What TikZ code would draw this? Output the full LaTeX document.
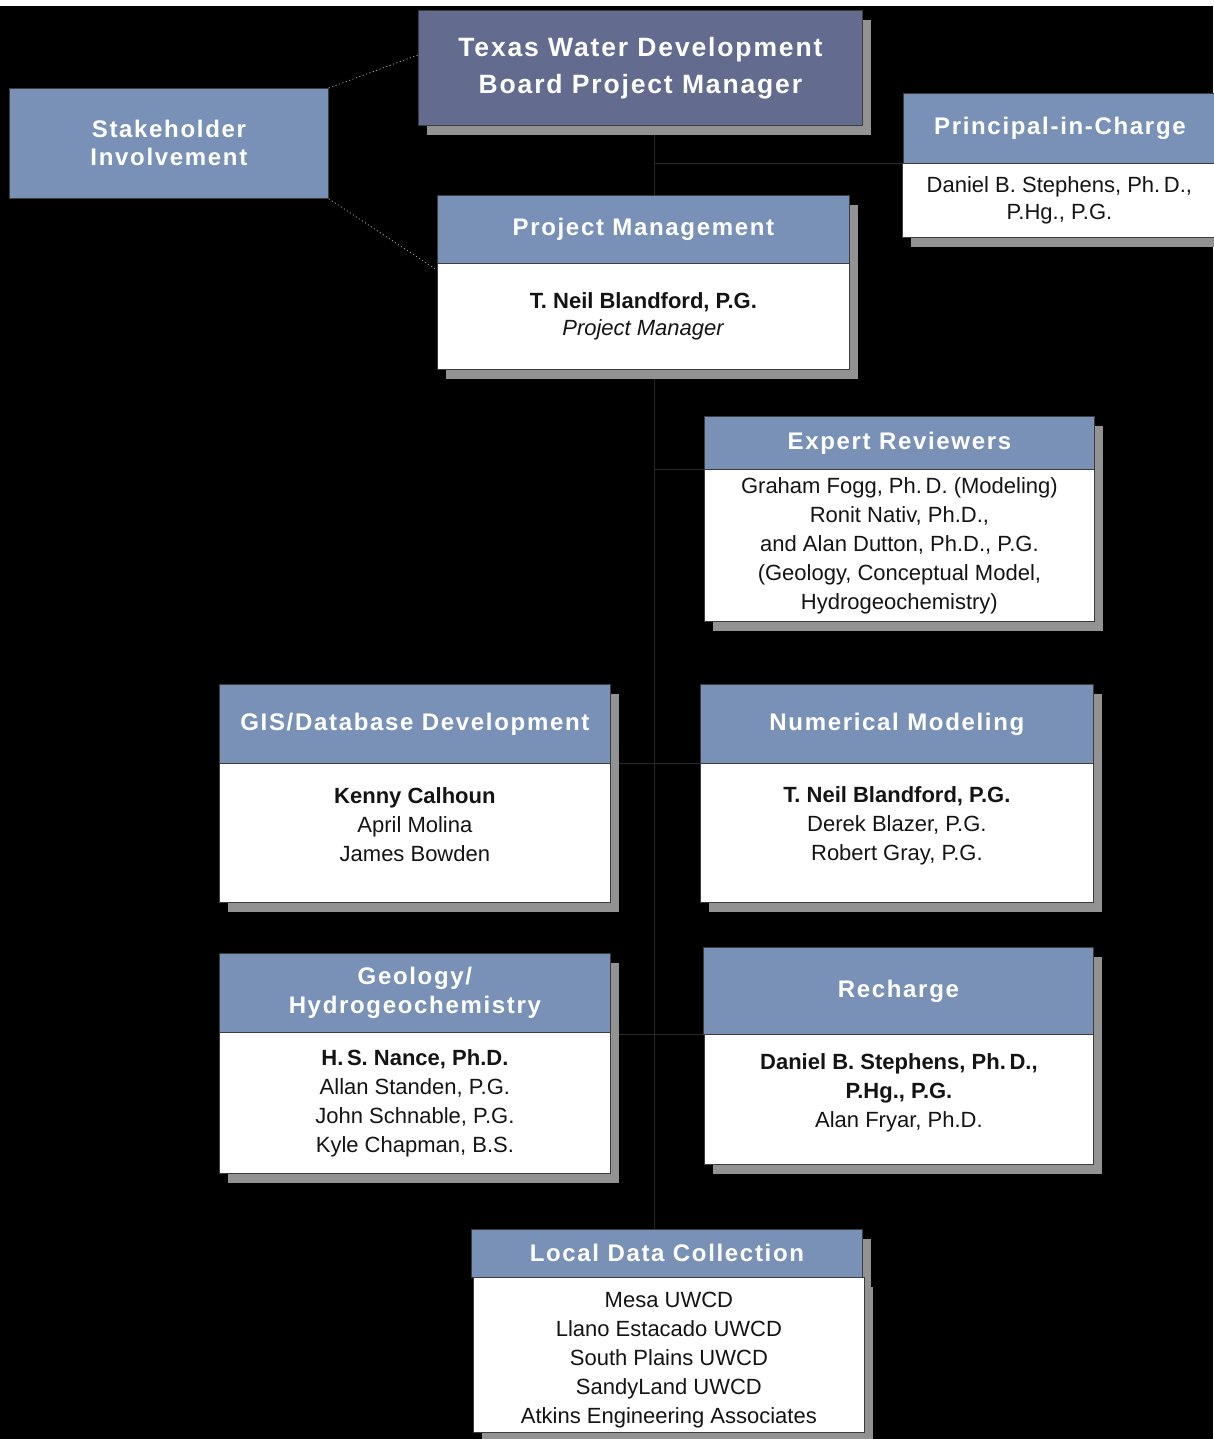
\documentclass[tikz,border=0pt]{standalone}
\usepackage{fontspec}
\setmainfont{Liberation Sans}
\newfontfamily\headfont[LetterSpace=7]{Liberation Sans}
\usepackage{tikz}
\usetikzlibrary{shadows}
\definecolor{headblue}{RGB}{121,145,182}
\definecolor{boardblue}{RGB}{99,107,143}
\definecolor{shadegray}{RGB}{146,146,146}
\definecolor{edgegray}{RGB}{60,60,60}
\definecolor{linkgray}{RGB}{40,40,40}
\definecolor{inkblack}{RGB}{20,20,20}
\pgfdeclarelayer{back}
\pgfdeclarelayer{links}
\pgfsetlayers{back,links,main}

\begin{document}
\begin{tikzpicture}[x=1pt, y=-1pt,
  box/.style={draw=edgegray, line width=0.8pt, rectangle, inner sep=0pt, align=center, anchor=north west},
  shade/.style={drop shadow={shadow xshift=9pt, shadow yshift=-10pt, fill=shadegray, opacity=1}},
  head/.style={box, fill=headblue, text=white, font=\headfont\bfseries\fontsize{24}{29}\selectfont},
  body/.style={box, shade, fill=white, text=inkblack, font=\fontsize{22}{29}\selectfont},
  link/.style={draw=linkgray, line width=1pt},
  dots/.style={draw=gray!80, dash pattern=on 1.2pt off 2.4pt, line width=0.8pt}]
\useasboundingbox (0,0) rectangle (1213,1439);
\begin{pgfonlayer}{back}
\fill[black] (0,6) rectangle (1213,1439);
\fill[white] (0,0) rectangle (1213,6);
\end{pgfonlayer}

%%%%% Top %%%%%
\node[head, shade, fill=boardblue, minimum width=444pt, minimum height=115pt,
  font=\headfont\bfseries\fontsize{26.5}{37}\selectfont] (twdb) at (418,10) {Texas Water Development\\Board Project Manager};
\node[head, minimum width=319pt, minimum height=110pt, font=\headfont\bfseries\fontsize{24}{28}\selectfont] (stake) at (9,88) {Stakeholder\\Involvement};
\node[head, shade, minimum width=313pt, minimum height=70pt] (pichead) at (903,93) {Principal-in-Charge};
\node[body, minimum width=314pt, minimum height=74pt, font=\fontsize{22}{27}\selectfont] (picbody) at (902,163) {Daniel B. Stephens, Ph.\,D.,\\P.Hg., P.G.};
\node[head, shade, minimum width=412pt, minimum height=68pt] (pmhead) at (437,195) {Project Management};
\node[body, minimum width=412pt, minimum height=106pt, font=\fontsize{22}{27}\selectfont] (pmbody) at (437,263) {\textbf{T. Neil Blandford, P.G.}\\\textit{Project Manager}};

%%%%% Teams %%%%%
\node[head, shade, minimum width=390pt, minimum height=53pt] (erhead) at (704,416) {Expert Reviewers};
\node[body, minimum width=390pt, minimum height=152pt] (erbody) at (704,469) {Graham Fogg, Ph.\,D. (Modeling)\\Ronit Nativ, Ph.D.,\\and Alan Dutton, Ph.D., P.G.\\(Geology, Conceptual Model,\\Hydrogeochemistry)};
\node[head, shade, minimum width=391pt, minimum height=79pt] (gishead) at (219,684) {GIS/Database Development};
\node[body, minimum width=391pt, minimum height=139pt] (gisbody) at (219,763) {\textbf{Kenny Calhoun}\\April Molina\\James Bowden\\[-12pt]\mbox{}};
\node[head, shade, minimum width=393pt, minimum height=79pt] (nmhead) at (700,684) {Numerical Modeling};
\node[body, minimum width=393pt, minimum height=139pt] (nmbody) at (700,763) {\textbf{T. Neil Blandford, P.G.}\\Derek Blazer, P.G.\\Robert Gray, P.G.\\[-10pt]\mbox{}};
\node[head, shade, minimum width=391pt, minimum height=79pt] (geohead) at (219,953) {Geology/\\Hydrogeochemistry};
\node[body, minimum width=391pt, minimum height=141pt] (geobody) at (219,1032) {\textbf{H.\,S. Nance, Ph.D.}\\Allan Standen, P.G.\\John Schnable, P.G.\\Kyle Chapman, B.S.};
\node[head, shade, minimum width=390pt, minimum height=87pt] (rchhead) at (703,947) {Recharge};
\node[body, minimum width=389pt, minimum height=130pt] (rchbody) at (704,1034) {\textbf{Daniel B. Stephens, Ph.\,D.,}\\\textbf{P.Hg., P.G.}\\Alan Fryar, Ph.D.\\[-12pt]\mbox{}};
\node[head, shade, minimum width=391pt, minimum height=48pt] (ldchead) at (471,1229) {Local Data Collection};
\node[body, minimum width=391pt, minimum height=155pt] (ldcbody) at (473,1277) {\mbox{}\\[-4pt]Mesa UWCD\\Llano Estacado UWCD\\South Plains UWCD\\SandyLand UWCD\\Atkins Engineering Associates};

%%%%% Links %%%%%
\begin{pgfonlayer}{links}
\coordinate (spine) at (654,0);
\draw[link] (twdb.south -| spine) -- (pmhead.north -| spine);
\draw[link] (spine |- pichead.south) -- (pichead.south west);
\draw[link] (pmbody.south -| spine) -- (ldchead.north -| spine);
\draw[link] (spine |- erhead.south) -- (erhead.south west);
\foreach \l/\r in {gishead/nmhead, geohead/rchhead}{
\draw[link] (\l.east |- \r.south) -- (\r.south west);
}
\draw[dots] (stake.north east) -- ([yshift=-45pt]twdb.north west);
\draw[dots] (stake.south east) -- ([yshift=-7pt]pmbody.north west);
\end{pgfonlayer}
\end{tikzpicture}
\end{document}
